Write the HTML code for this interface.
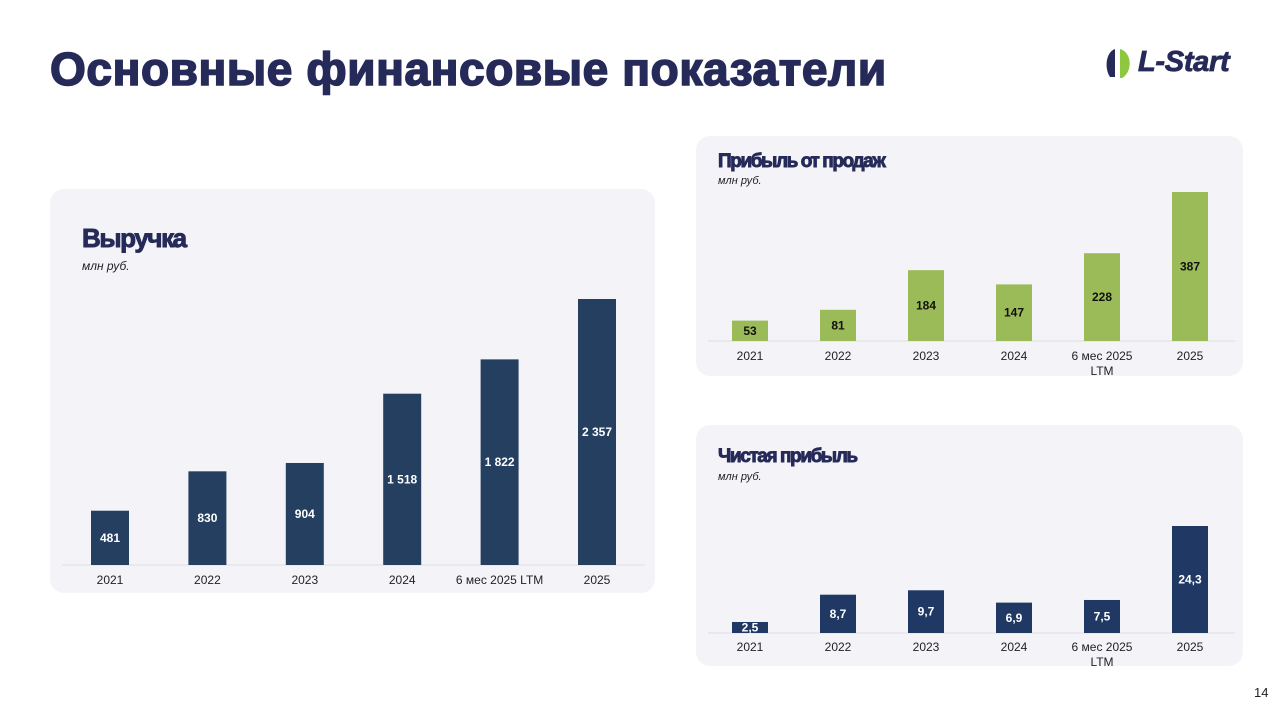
<!DOCTYPE html>
<html><head><meta charset="utf-8">
<style>
body{margin:0;width:1280px;height:715px;background:#fff;position:relative;overflow:hidden;font-family:"Liberation Sans",Arial,sans-serif}
.card{position:absolute;background:#f4f4f8;border-radius:14px}
.h1{position:absolute;left:50px;top:42px;font-size:46px;font-weight:bold;color:#262a58;letter-spacing:0.6px;white-space:nowrap;-webkit-text-stroke:1.6px #262a58}
.ct{position:absolute;font-weight:bold;color:#262a58;letter-spacing:-1.4px;white-space:nowrap;-webkit-text-stroke:0.9px #262a58}
.unit{position:absolute;font-style:italic;font-size:12px;color:#222}
svg{position:absolute;left:0;top:0}
</style></head><body>
<div class="h1">Основные финансовые показатели</div>
<div style="position:absolute;left:1102px;top:44px;width:140px;height:40px">
<svg width="40" height="40" style="position:absolute;left:0;top:0"><path d="M13 5 C4 8,2 24,8 33 L13 33 Z" fill="#262a58"/><path d="M18 5 C30 8,31 28,20 34 L18 34 Z" fill="#8dc63f"/></svg>
<span style="position:absolute;left:36px;top:2px;font-size:29px;font-weight:bold;font-style:italic;color:#262a58;letter-spacing:-0.3px;-webkit-text-stroke:0.8px #262a58">L-Start</span></div>
<div class="card" style="left:50px;top:189px;width:605px;height:404px"></div>
<div class="card" style="left:696px;top:136px;width:547px;height:240px"></div>
<div class="card" style="left:696px;top:425px;width:547px;height:241px"></div>
<div class="ct" style="left:82px;top:223px;font-size:26px">Выручка</div>
<div class="unit" style="left:82px;top:259px">млн руб.</div>
<div class="ct" style="left:718px;top:151px;font-size:19px">Прибыль от продаж</div>
<div class="unit" style="left:718px;top:175px;font-size:11px">млн руб.</div>
<div class="ct" style="left:718px;top:446px;font-size:19px">Чистая прибыль</div>
<div class="unit" style="left:718px;top:471px;font-size:11px">млн руб.</div>
<div style="position:absolute;left:1254px;top:685px;font-size:13px;color:#222">14</div>
<svg id="s" width="1280" height="715"></svg>
<script>
const revCats=["2021","2022","2023","2024","6 мес 2025 LTM","2025"];
const revVals=[481,830,904,1518,1822,2357];
const revLabels=["481","830","904","1 518","1 822","2 357"];
const spCats=["2021","2022","2023","2024","6 мес 2025|LTM","2025"];
const spVals=[53,81,184,147,228,387];
const spLabels=["53","81","184","147","228","387"];
const npCats=["2021","2022","2023","2024","6 мес 2025|LTM","2025"];
const npVals=[2.5,8.7,9.7,6.9,7.5,24.3];
const npLabels=["2,5","8,7","9,7","6,9","7,5","24,3"];
const s=document.getElementById('s');
const NS='http://www.w3.org/2000/svg';
function mk(t,a,p){const e=document.createElementNS(NS,t);for(const k in a)e.setAttribute(k,a[k]);(p||s).appendChild(e);return e;}
function chart(name,cats,vals,labels,o){
 const g=mk('g',{});
 
 
 const y=v=>o.base-v*o.scale;
 const x=i=>o.x0+i*o.step;
 mk('line',{x1:o.lx1,x2:o.lx2,y1:o.base,y2:o.base,stroke:'#dcdce4','stroke-width':1},g);
 vals.forEach((v,i)=>{
  const r=mk('rect',{x:x(i)-o.bw/2,y:y(v),width:o.bw,height:o.base-y(v),fill:o.color},g);
  
  
  const t=mk('text',{x:x(i),y:(y(v)+o.base)/2+4,'text-anchor':'middle','font-size':o.fs,'font-weight':'bold',fill:o.tc,'font-family':'Liberation Sans, sans-serif'},g);
  t.textContent=labels[i];
  
  
  cats[i].split('|').forEach((ln,j)=>{
   const c=mk('text',{x:x(i),y:o.base+o.cy+j*15,'text-anchor':'middle','font-size':12,fill:'#222','font-family':'Liberation Sans, sans-serif'},g);
   c.textContent=ln;
   
   
  });
 });
}
chart('revenue-chart',revCats,revVals,revLabels,{base:565,scale:266/2357,x0:110,step:97.4,bw:38,color:'#243f60',tc:'#fff',fs:12,cy:19,lx1:62,lx2:645});
chart('sales-profit-chart',spCats,spVals,spLabels,{base:341,scale:149/387,x0:750,step:88,bw:36,color:'#9bbb59',tc:'#111',fs:12,cy:19,lx1:708,lx2:1235});
chart('net-profit-chart',npCats,npVals,npLabels,{base:633,scale:107/24.3,x0:750,step:88,bw:36,color:'#1f3864',tc:'#fff',fs:12,cy:18,lx1:708,lx2:1235});
</script>
</body></html>
